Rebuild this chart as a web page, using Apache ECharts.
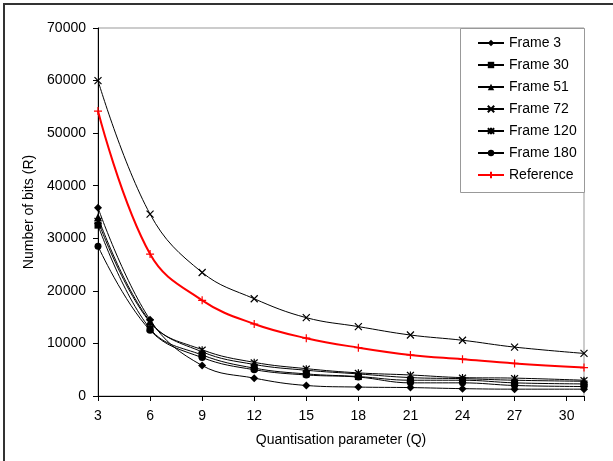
<!DOCTYPE html>
<html>
<head>
<meta charset="utf-8">
<script src="https://cdn.jsdelivr.net/npm/echarts@6/dist/echarts.min.js"></script>
<style>
html, body { margin: 0; padding: 0; background: #fff; }
#chart { width: 613px; height: 461px; }
</style>
</head>
<body>
<div id="chart"></div>
<script>
// Q values (x) and bit counts per frame
var qValues = [3, 6, 9, 12, 15, 18, 21, 24, 27, 31];
var xTicks = [3, 6, 9, 12, 15, 18, 21, 24, 27, 30];
var yTicks = [0, 10000, 20000, 30000, 40000, 50000, 60000, 70000];

var frame3 = [35800, 14500, 5800, 3400, 2000, 1700, 1600, 1400, 1300, 1300];
var frame30 = [32500, 12800, 7800, 5300, 4200, 3700, 3000, 3000, 2500, 2300];
var frame51 = [34000, 14200, 8400, 6000, 4900, 4200, 3500, 3300, 3000, 2800];
var frame72 = [60000, 34600, 23500, 18500, 14900, 13200, 11600, 10600, 9300, 8100];
var frame120 = [33300, 14000, 8800, 6400, 5200, 4400, 4000, 3500, 3400, 3000];
var frame180 = [28500, 12500, 7300, 5000, 4000, 3600, 2500, 2500, 2000, 1800];
var reference = [54200, 27000, 18200, 13700, 11000, 9200, 7800, 7000, 6200, 5400];

var FONT = 'Liberation Sans, Arial, sans-serif';

function pairs(vals)
{
    var out = [];
    for (var i = 0; i < qValues.length; i++)
    {
        out.push([qValues[i], vals[i]]);
    }
    return out;
}

var crossPath = 'path://M0,0L10,10M10,0L0,10';
var starPath = 'path://M0,0L10,10M10,0L0,10M5,-1L5,11';
var plusPath = 'path://M0,5L10,5M5,0L5,10';

function makeSeries(name, vals, symbol, size, lineOnly)
{
    return {
        name: name,
        type: 'line',
        data: pairs(vals),
        smooth: 0.4,
        symbol: symbol,
        symbolSize: size,
        showAllSymbol: true,
        lineStyle: { color: '#000', width: 1 },
        itemStyle: lineOnly
            ? { color: 'none', borderColor: '#000', borderWidth: 1.2 }
            : { color: '#000', borderColor: '#000', borderWidth: 0 },
        emphasis: { disabled: true },
        animation: false
    };
}

var series = [
    makeSeries('Frame 3', frame3, 'diamond', 8, false),
    makeSeries('Frame 30', frame30, 'rect', 7, false),
    makeSeries('Frame 51', frame51, 'triangle', 8, false),
    makeSeries('Frame 72', frame72, crossPath, 7, true),
    makeSeries('Frame 120', frame120, starPath, 7, true),
    makeSeries('Frame 180', frame180, 'circle', 7, false),
    {
        name: 'Reference',
        type: 'line',
        data: pairs(reference),
        smooth: 0.4,
        symbol: plusPath,
        symbolSize: 8,
        showAllSymbol: true,
        lineStyle: { color: '#ff0000', width: 2 },
        itemStyle: { color: 'none', borderColor: '#ff0000', borderWidth: 1.2 },
        emphasis: { disabled: true },
        animation: false
    }
];

var myChart = echarts.init(document.getElementById('chart'), null, { renderer: 'canvas' });

var option = {
    backgroundColor: '#fff',
    animation: false,
    textStyle: { fontFamily: FONT },
    grid: {
        left: 98, right: 29, top: 28, bottom: 65,
        show: true, borderColor: '#999', borderWidth: 1, backgroundColor: 'transparent'
    },
    graphic: [
        {
            type: 'rect', z: 0, silent: true,
            shape: { x: 4, y: 4, width: 800, height: 600 },
            style: { fill: 'none', stroke: '#333', lineWidth: 2 }
        },
        {
            type: 'rect', z: 3, silent: true,
            shape: { x: 460.5, y: 28.5, width: 124, height: 164 },
            style: { fill: '#fff', stroke: '#999', lineWidth: 1 }
        }
    ],
    legend: {
        orient: 'vertical',
        left: 477,
        top: 36,
        itemWidth: 26,
        itemHeight: 8,
        itemGap: 8,
        padding: 0,
        textStyle: { fontSize: 14, color: '#000', fontFamily: FONT },
        data: ['Frame 3', 'Frame 30', 'Frame 51', 'Frame 72', 'Frame 120', 'Frame 180', 'Reference']
    },
    xAxis: {
        type: 'value',
        min: 3,
        max: 31,
        interval: 3,
        name: 'Quantisation parameter (Q)',
        nameLocation: 'middle',
        nameGap: 37,
        nameTextStyle: { fontSize: 14, color: '#000', fontFamily: FONT },
        axisLine: { onZero: false, lineStyle: { color: '#000', width: 1 } },
        axisTick: { inside: false, length: 5, lineStyle: { color: '#000' } },
        axisLabel: {
            fontSize: 14, color: '#000', margin: 13, fontFamily: FONT,
            formatter: function (v) { return xTicks.indexOf(v) >= 0 ? String(v) : ''; }
        },
        splitLine: { show: false }
    },
    yAxis: {
        type: 'value',
        min: yTicks[0],
        max: yTicks[yTicks.length - 1],
        interval: 10000,
        name: 'Number of bits (R)',
        nameLocation: 'middle',
        nameGap: 61,
        nameTextStyle: { fontSize: 14, color: '#000', fontFamily: FONT },
        axisLine: { show: true, lineStyle: { color: '#000', width: 1 } },
        axisTick: { show: true, inside: false, length: 5, lineStyle: { color: '#000' } },
        axisLabel: {
            fontSize: 14, color: '#000', margin: 12, fontFamily: FONT,
            formatter: function (v) { return String(v); }
        },
        splitLine: { show: false }
    },
    series: series
};

myChart.setOption(option);
</script>
</body>
</html>
